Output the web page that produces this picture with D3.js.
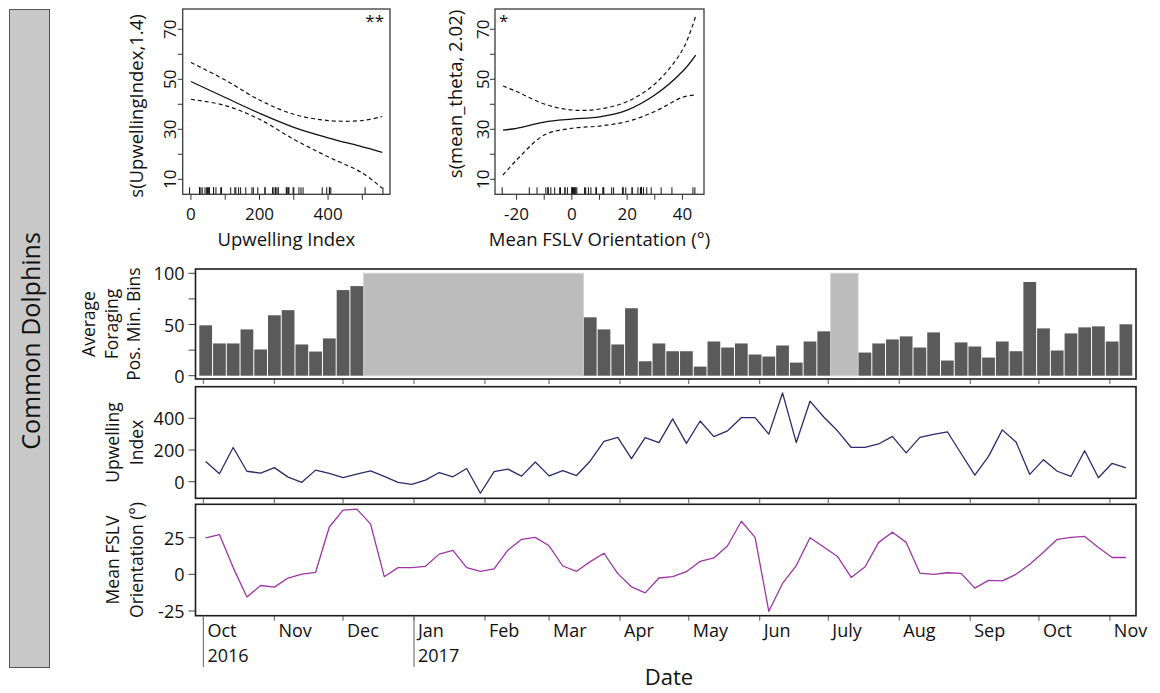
<!DOCTYPE html>
<html>
<head>
<meta charset="utf-8">
<script src="https://cdn.jsdelivr.net/npm/d3@7"></script>
<style>
  html, body { margin: 0; padding: 0; background: #fff; }
  svg text { font-family: "Open Sans", "DejaVu Sans", sans-serif; fill: #111; }
</style>
</head>
<body>
<svg id="fig" width="1160" height="693"></svg>
<script>
// ---------------- data ----------------
// Sampling: one value every 6 days starting 2 Oct 2016
const sampleStart = new Date(2016, 9, 2);
const sampleStepDays = 6;

// Average foraging-positive minute bins (null = no recording coverage)
const foraging = [
  49.2, 31.5, 31.5, 45.2, 25.6, 59, 64, 30.5, 23.6, 36.4, 83.6, 87.5,
  null, null, null, null, null, null, null, null, null, null, null, null, null, null, null, null,
  57, 45.2, 30.5, 65.9, 14.1, 31.5, 23.9, 23.9, 8.9, 33.4, 27.5, 31.5, 20.7, 18.7, 29.5, 12.8, 33.4, 43.3,
  null, null,
  22.6, 31.5, 35.4, 38.4, 27.5, 42.3, 14.8, 32.5, 28.5, 17.7, 33.4, 23.9, 91.5, 46.2, 24.6, 41.3, 47.2, 48.2, 33.4, 50.2
];
const gapHeight = 100;   // height of the shaded "no data" blocks

// Upwelling index
const upwelling = [
  128, 50, 216, 66, 54, 89, 29, -4, 73, 52, 25, 48,
  68, 33, -4, -17, 10, 58, 31, 83, -73, 64, 79, 35, 124, 37, 70, 39,
  131, 255, 280, 145, 278, 247, 396, 242, 383, 284, 321, 404, 404, 300, 560, 247, 508, 408,
  321, 216,
  216, 238, 286, 182, 280, 298, 315, 178, 41, 160, 327, 251, 46, 139, 66, 33, 195, 25, 116, 87
];

// Mean FSLV orientation (degrees)
const fslv = [
  24.8, 27.1, 4.6, -15.4, -7.6, -8.7, -2.5, 0.2, 1.4, 32.3, 43.8, 44.5,
  34.4, -1.6, 4.6, 4.6, 5.5, 13.8, 16.3, 4.6, 2.1, 3.7, 16.5, 23.9, 25.2, 19.5, 5.7, 2.1,
  8.7, 14.4, 0.5, -8.5, -12.6, -2.5, -1.6, 1.8, 8.9, 11.2, 19.5, 36.2, 25.2, -25.2, -6.2, 6.0, 25.0, 18.6,
  12.2, -2.1,
  5.0, 21.8, 28.7, 21.8, 0.9, 0, 1.1, 0.7, -9.4, -4.1, -4.4, 0, 6.9, 15.1, 23.9, 25.2, 25.9, 18.3, 11.5, 11.5
];

// GAM smooth for upwelling index: fit and confidence band
const gamUpwX     = [0, 100, 200, 300, 400, 500, 558];
const gamUpwFit   = [49.1, 42.7, 36.4, 30.8, 26.6, 23.0, 20.8];
const gamUpwUpper = [56.7, 49.7, 41.7, 36.0, 33.5, 33.5, 35.1];
const gamUpwLower = [42.0, 39.5, 34.0, 26.0, 19.0, 12.5, 6.4];

// GAM smooth for mean FSLV orientation
const gamThX     = [-24.9, -20, -10, 0, 10, 20, 30, 40, 44.8];
const gamThFit   = [29.7, 30.4, 32.9, 34.1, 35.0, 37.7, 43.7, 53.1, 59.7];
const gamThUpper = [47.3, 45.1, 40.1, 37.7, 38.1, 41.1, 48.1, 61.7, 75.3];
const gamThLower = [11.7, 17.7, 27.7, 30.4, 31.3, 33.1, 37.1, 42.8, 43.7];

// Axis labels
const monthLabels = ["Oct", "Nov", "Dec", "Jan", "Feb", "Mar", "Apr", "May", "Jun", "July", "Aug", "Sep", "Oct", "Nov"];
const yearLabels = [{ date: new Date(2016, 9, 1), label: "2016" }, { date: new Date(2017, 0, 1), label: "2017" }];

// ---------------- drawing ----------------
const svg = d3.select("#fig");
const dates = foraging.map((_, i) => d3.timeDay.offset(sampleStart, i * sampleStepDays));
const stepPx = () => x(dates[1]) - x(dates[0]);

// species strip on the left
svg.append("rect").attr("x", 9.5).attr("y", 9.5).attr("width", 40).attr("height", 658)
  .attr("fill", "#c8c8c8").attr("stroke", "#555").attr("stroke-width", 1);
svg.append("text").attr("transform", "translate(30,341) rotate(-90)")
  .attr("text-anchor", "middle").attr("dominant-baseline", "central")
  .style("font-size", "25px").text("Common Dolphins");

// ---------- GAM partial-effect panels ----------
function gamPanel(o) {
  const g = svg.append("g");
  const xs = d3.scaleLinear().domain(o.xDomain).range([o.left, o.right]);
  const ys = d3.scaleLinear().domain([4, 78.1]).range([o.bottom, o.top]);
  const line = d3.line().x(d => xs(d[0])).y(d => ys(d[1])).curve(d3.curveCatmullRom.alpha(0.5));
  const pts = arr => o.xs.map((v, i) => [v, arr[i]]);

  // rug of observed covariate values
  g.selectAll(".rug").data(o.rug).join("line")
    .attr("x1", d => xs(d)).attr("x2", d => xs(d))
    .attr("y1", o.bottom).attr("y2", o.bottom - 7)
    .attr("stroke", "#111").attr("stroke-width", 1);

  g.append("path").attr("d", line(pts(o.fit))).attr("fill", "none")
    .attr("stroke", "#111").attr("stroke-width", 1.3);
  [o.upper, o.lower].forEach(arr => {
    g.append("path").attr("d", line(pts(arr))).attr("fill", "none")
      .attr("stroke", "#111").attr("stroke-width", 1.2).attr("stroke-dasharray", "4,3");
  });

  g.append("rect").attr("x", o.left).attr("y", o.top)
    .attr("width", o.right - o.left).attr("height", o.bottom - o.top)
    .attr("fill", "none").attr("stroke", "#3a3a3a").attr("stroke-width", 1.3);

  // x axis
  o.xTicks.forEach(t => {
    g.append("line").attr("x1", xs(t)).attr("x2", xs(t)).attr("y1", o.bottom).attr("y2", o.bottom + 5.5)
      .attr("stroke", "#333").attr("stroke-width", 1);
  });
  o.xLabels.forEach(t => {
    g.append("text").attr("x", xs(t)).attr("y", 220).attr("text-anchor", "middle")
      .style("font-size", "17px").text(t);
  });
  // y axis (labels rotated, R style)
  d3.range(10, 71, 10).forEach(t => {
    g.append("line").attr("x1", o.left).attr("x2", o.left - 5).attr("y1", ys(t)).attr("y2", ys(t))
      .attr("stroke", "#333").attr("stroke-width", 1);
  });
  [10, 30, 50, 70].forEach(t => {
    g.append("text").attr("transform", `translate(${o.left - 13},${ys(t)}) rotate(-90)`)
      .attr("text-anchor", "middle").attr("dominant-baseline", "central")
      .style("font-size", "17px").text(t);
  });
  // titles
  g.append("text").attr("x", (o.left + o.right) / 2).attr("y", 246).attr("text-anchor", "middle")
    .style("font-size", "18.5px").text(o.xTitle);
  g.append("text").attr("transform", `translate(${o.yTitleX},${o.yTitleY}) rotate(-90)`)
    .attr("text-anchor", "middle").attr("dominant-baseline", "central")
    .style("font-size", "18.5px").text(o.yTitle);
  g.append("text").attr("x", o.starX).attr("y", 27).attr("text-anchor", o.starAnchor)
    .style("font-size", "17px").text(o.star);
}

const covered = foraging.map(v => v !== null);
gamPanel({
  left: 182.7, right: 390, top: 9, bottom: 194.3,
  xDomain: [-24, 580.6], xs: gamUpwX, fit: gamUpwFit, upper: gamUpwUpper, lower: gamUpwLower,
  rug: upwelling.filter((_, i) => covered[i]),
  xTicks: d3.range(0, 501, 100), xLabels: [0, 200, 400],
  xTitle: "Upwelling Index", yTitle: "s(UpwellingIndex,1.4)", yTitleX: 135, yTitleY: 106,
  star: "**", starX: 384, starAnchor: "end"
});
gamPanel({
  left: 495, right: 704, top: 9, bottom: 194.3,
  xDomain: [-27.8, 47.8], xs: gamThX, fit: gamThFit, upper: gamThUpper, lower: gamThLower,
  rug: fslv.filter((_, i) => covered[i]),
  xTicks: d3.range(-20, 41, 10), xLabels: [-20, 0, 20, 40],
  xTitle: "Mean FSLV Orientation (°)", yTitle: "s(mean_theta, 2.02)", yTitleX: 454, yTitleY: 94,
  star: "*", starX: 499, starAnchor: "start"
});

// ---------- time-series panels ----------
const tsLeft = 195.5, tsRight = 1136;
const x = d3.scaleTime()
  .domain([d3.timeHour.offset(dates[0], -107), d3.timeHour.offset(dates[dates.length - 1], 106)])
  .range([tsLeft, tsRight]);
const months = d3.timeMonth.range(new Date(2016, 9, 1), new Date(2017, 11, 1));

const panels = {
  bars: { top: 269, bottom: 379, y: d3.scaleLinear().domain([0, 100]).range([375.7, 273.3]),
          ticks: [0, 25, 50, 75, 100], labels: [0, 50, 100],
          title: ["Average", "Foraging", "Pos. Min. Bins"], titleX: [88, 110.5, 133] },
  upw:  { top: 386.7, bottom: 498.3, y: d3.scaleLinear().domain([0, 400]).range([481.7, 418.3]),
          ticks: [0, 200, 400], labels: [0, 200, 400],
          title: ["Upwelling", "Index"], titleX: [112, 136] },
  fslv: { top: 504.3, bottom: 615.7, y: d3.scaleLinear().domain([-25, 25]).range([611, 537.7]),
          ticks: [-25, 0, 25], labels: [-25, 0, 25],
          title: ["Mean FSLV", "Orientation (°)"], titleX: [112, 136] }
};

Object.values(panels).forEach(p => {
  const g = svg.append("g");
  p.g = g;
  // y axis ticks and labels
  p.ticks.forEach(t => {
    g.append("line").attr("x1", tsLeft - 7).attr("x2", tsLeft).attr("y1", p.y(t)).attr("y2", p.y(t))
      .attr("stroke", "#444").attr("stroke-width", 1);
  });
  p.labels.forEach(t => {
    g.append("text").attr("x", tsLeft - 11).attr("y", p.y(t)).attr("text-anchor", "end")
      .attr("dominant-baseline", "central").style("font-size", "18px").text(t);
  });
  const cy = (p.top + p.bottom) / 2;
  p.title.forEach((s, i) => {
    g.append("text").attr("transform", `translate(${p.titleX[i]},${cy}) rotate(-90)`)
      .attr("text-anchor", "middle").attr("dominant-baseline", "central")
      .style("font-size", "17.5px").text(s);
  });
  // month ticks under every panel
  months.forEach(m => {
    g.append("line").attr("x1", x(m)).attr("x2", x(m)).attr("y1", p.bottom).attr("y2", p.bottom + 5)
      .attr("stroke", "#777").attr("stroke-width", 1.2);
  });
});

// bars and no-coverage blocks
{
  const p = panels.bars, w = stepPx();
  const runs = [];
  foraging.forEach((v, i) => {
    if (v === null) {
      if (runs.length && runs[runs.length - 1].end === i - 1) runs[runs.length - 1].end = i;
      else runs.push({ start: i, end: i });
    }
  });
  p.g.selectAll(".gap").data(runs).join("rect")
    .attr("x", d => x(dates[d.start]) - w / 2)
    .attr("width", d => x(dates[d.end]) - x(dates[d.start]) + w)
    .attr("y", p.y(gapHeight)).attr("height", p.y(0) - p.y(gapHeight))
    .attr("fill", "#bcbcbc").attr("stroke", "#d2d2d2").attr("stroke-width", 1);
  p.g.selectAll(".bar").data(foraging.map((v, i) => ({ v, d: dates[i] })).filter(d => d.v !== null))
    .join("rect")
    .attr("x", d => x(d.d) - (w - 1) / 2).attr("width", w - 1)
    .attr("y", d => p.y(d.v)).attr("height", d => p.y(0) - p.y(d.v))
    .attr("fill", "#5a5a5a");
}

// lines
function drawLine(p, values, color) {
  const line = d3.line().x((_, i) => x(dates[i])).y(v => p.y(v));
  p.g.append("path").attr("d", line(values)).attr("fill", "none")
    .attr("stroke", color).attr("stroke-width", 1.3).attr("stroke-linejoin", "round");
}
drawLine(panels.upw, upwelling, "#2e2b6c");
drawLine(panels.fslv, fslv, "#9c36a6");

// frames on top
Object.values(panels).forEach(p => {
  p.g.append("rect").attr("x", tsLeft).attr("y", p.top)
    .attr("width", tsRight - tsLeft).attr("height", p.bottom - p.top)
    .attr("fill", "none").attr("stroke", "#1c1c1c").attr("stroke-width", 1.6);
});

// date axis labels
const fb = panels.fslv.bottom;
months.forEach((m, i) => {
  svg.append("text").attr("x", x(m) + 4).attr("y", 637)
    .style("font-size", "18px").text(monthLabels[i]);
});
yearLabels.forEach(yl => {
  svg.append("line").attr("x1", x(yl.date)).attr("x2", x(yl.date)).attr("y1", fb).attr("y2", 667)
    .attr("stroke", "#777").attr("stroke-width", 1.2);
  svg.append("text").attr("x", x(yl.date) + 4).attr("y", 662)
    .style("font-size", "18px").text(yl.label);
});
svg.append("text").attr("x", 669).attr("y", 685).attr("text-anchor", "middle")
  .style("font-size", "22px").text("Date");
</script>
</body>
</html>
